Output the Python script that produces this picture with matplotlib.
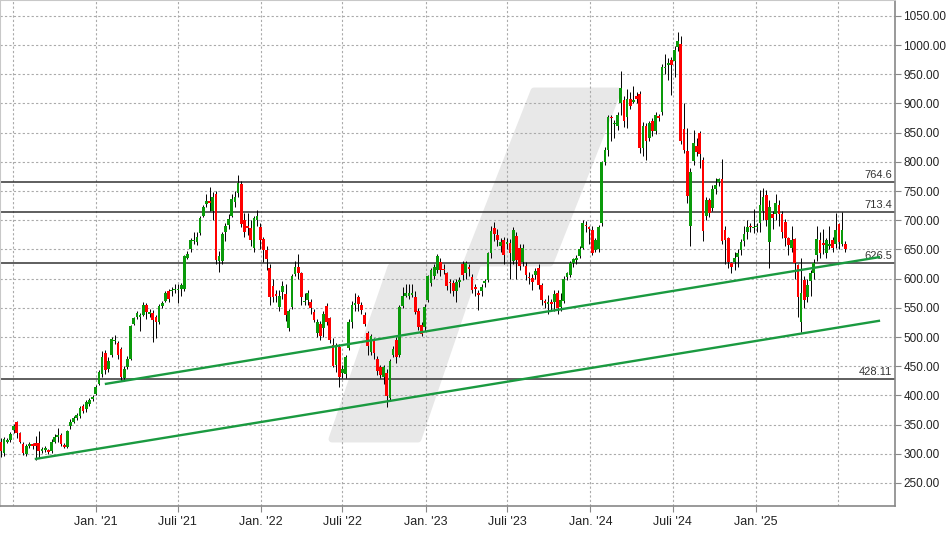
import numpy as np
import pandas as pd
import matplotlib
matplotlib.use("Agg")
import matplotlib.pyplot as plt
import matplotlib.dates as mdates
from matplotlib.patches import Polygon

plt.rcParams['font.family'] = ['Liberation Sans', 'DejaVu Sans']

# weekly candles, first week starting June 2020
opens = [321, 301, 321, 324, 341, 355, 335, 317, 300, 313, 316, 318, 318, 305, 307, 306, 305, 321, 329, 332,
         315, 312, 348, 355, 362, 365, 382, 376, 386, 394, 403, 420, 437, 472, 445, 469, 493, 490, 479, 429,
         449, 463, 523, 535, 535, 538, 555, 540, 541, 534, 526, 553, 562, 579, 578, 580, 580, 583, 583, 636,
         650, 664, 663, 678, 707, 727, 733, 716, 745, 631, 631, 680, 691, 708, 731, 746, 762, 700, 689, 686,
         652, 700, 689, 667, 649, 619, 587, 573, 551, 577, 574, 516, 552, 608, 620, 609, 560, 563, 560, 543,
         506, 523, 515, 553, 532, 486, 452, 483, 438, 437, 481, 525, 555, 568, 555, 538, 506, 475, 495, 463,
         449, 431, 439, 396, 469, 495, 470, 553, 570, 571, 572, 569, 545, 520, 517, 564, 592, 605, 614, 629,
         617, 609, 595, 593, 578, 594, 625, 609, 620, 603, 585, 576, 578, 592, 598, 643, 686, 674, 656, 666,
         660, 661, 631, 673, 653, 629, 621, 603, 601, 606, 619, 589, 562, 557, 560, 560, 576, 552, 562, 602,
         606, 626, 632, 639, 653, 692, 688, 683, 649, 650, 696, 800, 820, 877, 864, 861, 900, 906, 876, 907,
         903, 912, 916, 823, 861, 840, 870, 852, 878, 886, 960, 966, 975, 973, 997, 1001, 856, 818, 690, 802,
         827, 849, 803, 708, 734, 721, 754, 765, 771, 683, 669, 626, 628, 637, 649, 665, 680, 690, 686, 688,
         696, 715, 743, 662, 710, 711, 726, 711, 697, 669, 653, 667, 623, 526, 597, 568, 596, 610, 640, 666,
         660, 643, 655, 666, 660, 693, 660, 660]
highs = [327, 329, 327, 337, 351, 357, 338, 320, 316, 320, 319, 330, 339, 312, 314, 308, 325, 334, 345, 336,
         318, 341, 360, 365, 370, 382, 386, 392, 396, 401, 417, 443, 476, 478, 465, 500, 504, 493, 483, 450,
         467, 520, 535, 545, 541, 560, 558, 548, 546, 538, 556, 562, 579, 583, 585, 590, 590, 593, 641, 648,
         670, 680, 680, 707, 726, 745, 757, 748, 750, 648, 680, 695, 710, 745, 750, 777, 768, 712, 712, 700,
         708, 718, 695, 672, 655, 625, 600, 580, 580, 596, 590, 548, 608, 630, 642, 612, 575, 580, 565, 548,
         530, 528, 545, 558, 535, 498, 490, 488, 452, 470, 530, 562, 575, 572, 560, 542, 510, 505, 499, 468,
         452, 452, 445, 463, 485, 500, 555, 585, 590, 590, 590, 578, 550, 526, 556, 606, 618, 625, 642, 635,
         625, 612, 600, 598, 600, 603, 630, 630, 625, 608, 590, 580, 590, 600, 646, 690, 697, 685, 670, 672,
         670, 668, 688, 680, 660, 660, 628, 612, 608, 618, 625, 592, 565, 572, 565, 580, 580, 575, 605, 612,
         630, 636, 640, 655, 700, 698, 690, 690, 670, 692, 802, 825, 880, 880, 872, 885, 955, 912, 925, 920,
         930, 920, 922, 868, 866, 870, 875, 885, 882, 967, 985, 978, 980, 998, 1022, 1015, 900, 858, 790, 855,
         840, 852, 808, 740, 738, 760, 772, 773, 805, 690, 672, 628, 645, 650, 668, 690, 700, 695, 720, 695,
         752, 755, 752, 735, 716, 745, 735, 715, 702, 672, 690, 670, 625, 636, 605, 600, 615, 633, 690, 680,
         685, 670, 690, 672, 712, 695, 714, 665]
lows = [295, 297, 318, 321, 336, 327, 318, 298, 297, 310, 308, 290, 292, 301, 303, 300, 302, 318, 321, 314,
        310, 310, 343, 352, 358, 362, 370, 372, 382, 391, 400, 417, 432, 437, 440, 465, 488, 462, 425, 425,
        446, 460, 520, 531, 510, 536, 530, 535, 492, 498, 522, 549, 560, 560, 570, 575, 559, 570, 578, 633,
        645, 660, 658, 675, 705, 722, 715, 700, 625, 612, 625, 665, 685, 705, 722, 740, 688, 672, 675, 655,
        645, 690, 650, 628, 615, 555, 560, 560, 545, 565, 528, 510, 548, 605, 600, 555, 555, 555, 540, 525,
        500, 495, 500, 520, 490, 448, 440, 415, 430, 430, 478, 515, 545, 545, 540, 518, 470, 470, 462, 435,
        430, 420, 380, 392, 465, 455, 465, 550, 568, 565, 568, 540, 512, 502, 510, 560, 588, 600, 610, 605,
        608, 580, 575, 570, 560, 585, 598, 600, 605, 575, 570, 546, 570, 585, 595, 635, 665, 655, 645, 625,
        650, 600, 625, 600, 615, 622, 598, 590, 580, 600, 582, 555, 550, 540, 545, 545, 540, 545, 558, 598,
        603, 620, 625, 635, 650, 680, 660, 640, 645, 645, 690, 795, 810, 835, 840, 855, 880, 860, 858, 890,
        900, 900, 815, 810, 803, 835, 845, 848, 870, 880, 950, 940, 915, 945, 990, 830, 815, 730, 656, 795,
        810, 790, 665, 700, 705, 715, 745, 758, 660, 625, 618, 610, 615, 620, 640, 655, 668, 680, 678, 680,
        680, 700, 690, 618, 685, 700, 690, 670, 655, 640, 645, 600, 535, 508, 550, 560, 570, 600, 630, 635,
        642, 635, 650, 645, 652, 650, 655, 645]
closes = [304, 325, 324, 334, 347, 335, 321, 301, 313, 316, 313, 313, 304, 308, 310, 303, 321, 329, 331, 317,
          312, 339, 355, 361, 366, 378, 374, 389, 392, 398, 414, 440, 465, 444, 459, 496, 495, 469, 431, 446,
          463, 518, 532, 541, 537, 555, 543, 542, 529, 525, 553, 558, 575, 565, 580, 582, 583, 589, 639, 642,
          666, 666, 672, 704, 723, 733, 730, 740, 632, 638, 676, 690, 702, 736, 739, 764, 693, 680, 687, 666,
          703, 708, 666, 649, 633, 568, 568, 570, 570, 588, 538, 544, 605, 620, 609, 569, 562, 575, 549, 529,
          526, 501, 540, 526, 495, 450, 486, 431, 446, 465, 526, 555, 557, 556, 546, 523, 485, 501, 472, 442,
          435, 448, 399, 459, 480, 465, 552, 570, 575, 575, 576, 542, 517, 505, 552, 604, 615, 620, 638, 615,
          614, 588, 592, 578, 595, 598, 607, 626, 616, 580, 582, 572, 586, 596, 643, 682, 676, 666, 663, 640,
          662, 643, 684, 632, 621, 653, 606, 601, 595, 613, 589, 563, 558, 560, 557, 573, 549, 563, 600, 609,
          627, 633, 636, 650, 696, 690, 685, 644, 666, 688, 799, 820, 876, 875, 866, 880, 926, 870, 907, 895,
          906, 908, 823, 861, 836, 866, 853, 880, 875, 963, 962, 970, 966, 991, 1007, 836, 821, 742, 782, 833,
          817, 813, 682, 734, 713, 754, 760, 770, 665, 666, 628, 620, 636, 644, 662, 676, 688, 688, 689, 690,
          726, 739, 700, 722, 703, 730, 711, 679, 669, 657, 666, 626, 568, 576, 564, 589, 609, 627, 667, 643,
          658, 666, 660, 653, 683, 662, 683, 650]

# horizontal levels
levels = [764.6, 713.4, 626.5, 428.11]
level_labels = ['764.6', '713.4', '626.5', '428.11']

# trend lines (start, end)
trend_dates = [['2020-08-19', '2025-10-03'], ['2021-01-21', '2025-10-03']]
trend_prices = [[291, 528], [419.5, 637]]

tick_dates = ['2021-01-01', '2021-07-01', '2022-01-01', '2022-07-01', '2023-01-01',
              '2023-07-01', '2024-01-01', '2024-07-01', '2025-01-01']
tick_labels = ["Jan. '21", "Juli '21", "Jan. '22", "Juli '22", "Jan. '23",
               "Juli '23", "Jan. '24", "Juli '24", "Jan. '25"]
extra_grid = ['2020-07-01', '2025-07-01']

dates = pd.date_range('2020-06-05', periods=len(closes), freq='7D')
x = mdates.date2num(dates)
o = np.array(opens, float)
h = np.array(highs, float)
l = np.array(lows, float)
c = np.array(closes, float)

fig = plt.figure(figsize=(9.48, 5.34), dpi=100)
ax = fig.add_axes([0.0, 1 - 506 / 534, 895 / 948, 506 / 534])

# watermark logo in axes fraction
def px(xp, yp):
    return (xp / 895, 1 - yp / 506)
logo = Polygon([px(332, 439), px(391, 267), px(465, 267), px(534, 91), px(618, 91),
                px(550, 263), px(478, 263), px(418, 439)],
               closed=True, transform=ax.transAxes, facecolor='#e8e8e8',
               edgecolor='#e8e8e8', lw=5, joinstyle='round', zorder=0)
ax.add_patch(logo)

# grid
for d in tick_dates + extra_grid:
    ax.axvline(mdates.datestr2num(d), color='#aaaaaa', lw=0.8, ls=(0, (2, 2)), zorder=1)
for yv in range(250, 1051, 50):
    ax.axhline(yv, color='#aaaaaa', lw=0.8, ls=(0, (2, 2)), zorder=1)

# levels
for lv, lab in zip(levels, level_labels):
    ax.axhline(lv, color='#333333', lw=1.1, zorder=2)
    ax.annotate(lab, xy=(1, lv), xycoords=('axes fraction', 'data'), xytext=(-2, 1.5),
                textcoords='offset points', ha='right', va='bottom', fontsize=8, color='#333333')

# candles
up = c >= o
ax.vlines(x, l, h, color='black', lw=0.7, zorder=3)
bottom = np.minimum(o, c)
height = np.maximum(np.abs(c - o), 2.5)
ax.bar(x[up], height[up], bottom=bottom[up], width=6, color='#0a9a0a', zorder=4)
ax.bar(x[~up], height[~up], bottom=bottom[~up], width=6, color='#ff0000', zorder=4)

# trend lines
for td, tp in zip(trend_dates, trend_prices):
    ax.plot(mdates.datestr2num(td), tp, color='#1a9a40', lw=1.7, solid_capstyle='butt', zorder=5)

ax.set_xlim(mdates.datestr2num('2020-06-03'), mdates.datestr2num('2025-11-05'))
ax.set_ylim(210.6, 1077.1)

ax.yaxis.tick_right()
ax.set_yticks(range(250, 1051, 50))
ax.set_yticklabels([f'{v:.2f}' for v in range(250, 1051, 50)])
ax.set_xticks(mdates.datestr2num(tick_dates))
ax.set_xticklabels(tick_labels)
ax.tick_params(axis='both', labelsize=9, colors='#222222', length=4, width=0.8)
ax.tick_params(axis='both', color='#888888')
ax.tick_params(axis='y', pad=2, labelsize=8.5)
ax.tick_params(axis='x', pad=3)

for side in ['right', 'bottom']:
    ax.spines[side].set_color('#888888')
    ax.spines[side].set_linewidth(1.2)
for side in ['left', 'top']:
    ax.spines[side].set_color('#c8c8c8')
    ax.spines[side].set_linewidth(1.5)

fig.savefig('out.png', dpi=100)
